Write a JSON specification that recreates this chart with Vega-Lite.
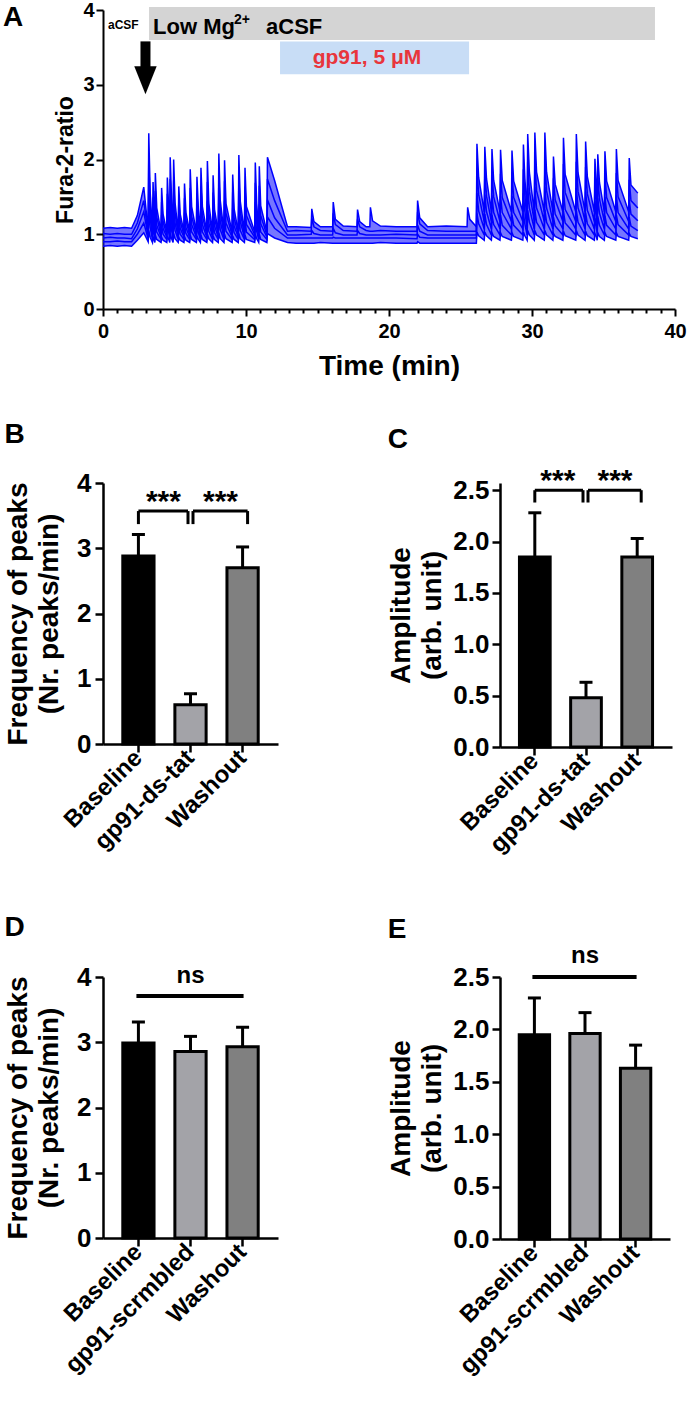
{
  "$schema": "https://vega.github.io/schema/vega-lite/v6.json",
  "background": "white",
  "padding": {"left": 2, "top": 0, "right": 5, "bottom": 5},
  "config": {
    "view": {"stroke": null},
    "font": "Liberation Sans",
    "axis": {"domainColor": "black", "tickColor": "black", "labelColor": "black", "titleColor": "black", "labelFont": "Liberation Sans", "titleFont": "Liberation Sans", "labelFontWeight": "bold", "titleFontWeight": "bold", "grid": false, "labelOverlap": false},
    "title": {"font": "Liberation Sans", "fontWeight": "bold", "color": "black"},
    "text": {"font": "Liberation Sans", "fontWeight": "bold", "color": "black"}
  },
  "datasets": {
    "traces": [
      {"t":0,"a":1.08,"b":1.01,"c":0.95,"d":0.9,"e":0.84},
      {"t":0.5,"a":1.09,"b":1.0,"c":0.96,"d":0.9,"e":0.85},
      {"t":1.0,"a":1.08,"b":1.01,"c":0.95,"d":0.91,"e":0.84},
      {"t":1.5,"a":1.09,"b":1.0,"c":0.95,"d":0.9,"e":0.85},
      {"t":2.0,"a":1.08,"b":1.0,"c":0.94,"d":0.9,"e":0.84},
      {"t":2.4,"a":1.25,"b":1.15,"c":1.07,"d":1.0,"e":0.92},
      {"t":2.85,"a":1.63,"b":1.45,"c":1.3,"d":1.15,"e":1.02},
      {"t":3.16,"a":1.05,"b":1.0,"c":0.97,"d":0.94,"e":0.9},
      {"t":3.2,"a":2.35,"b":1.98,"c":1.62,"d":1.33,"e":1.05},
      {"t":3.3,"a":1.56,"b":1.39,"c":1.22,"d":1.09,"e":0.96},
      {"t":3.46,"a":1.03,"b":0.99,"c":0.96,"d":0.93,"e":0.89},
      {"t":3.5,"a":1.7,"b":1.49,"c":1.3,"d":1.13,"e":0.97},
      {"t":3.58,"a":1.3,"b":1.19,"c":1.09,"d":1.01,"e":0.92},
      {"t":3.63,"a":1.03,"b":0.99,"c":0.96,"d":0.93,"e":0.89},
      {"t":3.66,"a":1.82,"b":1.58,"c":1.36,"d":1.17,"e":0.99},
      {"t":3.76,"a":1.35,"b":1.23,"c":1.12,"d":1.03,"e":0.93},
      {"t":4.06,"a":1.03,"b":0.99,"c":0.96,"d":0.93,"e":0.89},
      {"t":4.1,"a":1.62,"b":1.43,"c":1.26,"d":1.11,"e":0.96},
      {"t":4.2,"a":1.27,"b":1.17,"c":1.08,"d":1.0,"e":0.92},
      {"t":4.46,"a":1.03,"b":0.99,"c":0.96,"d":0.93,"e":0.89},
      {"t":4.5,"a":1.76,"b":1.54,"c":1.33,"d":1.15,"e":0.98},
      {"t":4.6,"a":1.32,"b":1.21,"c":1.11,"d":1.02,"e":0.93},
      {"t":4.67,"a":1.03,"b":0.99,"c":0.96,"d":0.93,"e":0.89},
      {"t":4.7,"a":2.03,"b":1.74,"c":1.46,"d":1.23,"e":1.01},
      {"t":4.8,"a":1.43,"b":1.29,"c":1.16,"d":1.05,"e":0.94},
      {"t":4.9,"a":1.03,"b":0.99,"c":0.96,"d":0.93,"e":0.89},
      {"t":4.94,"a":2.0,"b":1.72,"c":1.45,"d":1.22,"e":1.01},
      {"t":5.04,"a":1.42,"b":1.28,"c":1.15,"d":1.05,"e":0.94},
      {"t":5.26,"a":1.03,"b":0.99,"c":0.96,"d":0.93,"e":0.89},
      {"t":5.3,"a":1.64,"b":1.45,"c":1.27,"d":1.11,"e":0.96},
      {"t":5.4,"a":1.27,"b":1.17,"c":1.08,"d":1.0,"e":0.92},
      {"t":5.66,"a":1.03,"b":0.99,"c":0.96,"d":0.93,"e":0.89},
      {"t":5.7,"a":1.68,"b":1.48,"c":1.29,"d":1.13,"e":0.97},
      {"t":5.8,"a":1.29,"b":1.19,"c":1.09,"d":1.01,"e":0.92},
      {"t":6.06,"a":1.03,"b":0.99,"c":0.96,"d":0.93,"e":0.89},
      {"t":6.1,"a":1.87,"b":1.62,"c":1.38,"d":1.18,"e":0.99},
      {"t":6.2,"a":1.37,"b":1.24,"c":1.13,"d":1.03,"e":0.93},
      {"t":6.53,"a":1.03,"b":0.99,"c":0.96,"d":0.93,"e":0.89},
      {"t":6.57,"a":1.77,"b":1.55,"c":1.33,"d":1.15,"e":0.98},
      {"t":6.67,"a":1.33,"b":1.21,"c":1.11,"d":1.02,"e":0.93},
      {"t":6.81,"a":1.03,"b":0.99,"c":0.96,"d":0.93,"e":0.89},
      {"t":6.85,"a":1.89,"b":1.64,"c":1.39,"d":1.19,"e":0.99},
      {"t":6.95,"a":1.37,"b":1.25,"c":1.13,"d":1.03,"e":0.93},
      {"t":7.26,"a":1.03,"b":0.99,"c":0.96,"d":0.93,"e":0.89},
      {"t":7.3,"a":1.98,"b":1.7,"c":1.44,"d":1.22,"e":1.0},
      {"t":7.4,"a":1.41,"b":1.28,"c":1.15,"d":1.04,"e":0.94},
      {"t":7.66,"a":1.03,"b":0.99,"c":0.96,"d":0.93,"e":0.89},
      {"t":7.7,"a":1.79,"b":1.56,"c":1.34,"d":1.16,"e":0.98},
      {"t":7.8,"a":1.33,"b":1.22,"c":1.11,"d":1.02,"e":0.93},
      {"t":8.06,"a":1.03,"b":0.99,"c":0.96,"d":0.93,"e":0.89},
      {"t":8.1,"a":2.08,"b":1.78,"c":1.49,"d":1.25,"e":1.02},
      {"t":8.2,"a":1.45,"b":1.31,"c":1.17,"d":1.06,"e":0.94},
      {"t":8.46,"a":1.03,"b":0.99,"c":0.96,"d":0.93,"e":0.89},
      {"t":8.5,"a":1.99,"b":1.71,"c":1.44,"d":1.22,"e":1.0},
      {"t":8.6,"a":1.41,"b":1.28,"c":1.15,"d":1.04,"e":0.94},
      {"t":9.03,"a":1.03,"b":0.99,"c":0.96,"d":0.93,"e":0.89},
      {"t":9.07,"a":1.8,"b":1.57,"c":1.35,"d":1.16,"e":0.98},
      {"t":9.17,"a":1.34,"b":1.22,"c":1.11,"d":1.02,"e":0.93},
      {"t":9.46,"a":1.03,"b":0.99,"c":0.96,"d":0.93,"e":0.89},
      {"t":9.5,"a":2.06,"b":1.76,"c":1.48,"d":1.24,"e":1.01},
      {"t":9.6,"a":1.44,"b":1.3,"c":1.17,"d":1.05,"e":0.94},
      {"t":9.89,"a":1.03,"b":0.99,"c":0.96,"d":0.93,"e":0.89},
      {"t":9.93,"a":1.89,"b":1.64,"c":1.39,"d":1.19,"e":0.99},
      {"t":10.03,"a":1.37,"b":1.25,"c":1.13,"d":1.03,"e":0.93},
      {"t":10.61,"a":1.03,"b":0.99,"c":0.96,"d":0.93,"e":0.89},
      {"t":10.65,"a":1.96,"b":1.69,"c":1.43,"d":1.21,"e":1.0},
      {"t":10.75,"a":1.4,"b":1.27,"c":1.15,"d":1.04,"e":0.94},
      {"t":10.89,"a":1.03,"b":0.99,"c":0.96,"d":0.93,"e":0.89},
      {"t":10.93,"a":1.91,"b":1.65,"c":1.4,"d":1.19,"e":1.0},
      {"t":11.03,"a":1.38,"b":1.25,"c":1.14,"d":1.03,"e":0.93},
      {"t":11.46,"a":1.03,"b":0.99,"c":0.96,"d":0.93,"e":0.89},
      {"t":11.5,"a":2.03,"b":1.74,"c":1.46,"d":1.23,"e":1.01},
      {"t":12.0,"a":1.72,"b":1.45,"c":1.22,"d":1.08,"e":0.95},
      {"t":12.9,"a":1.1,"b":1.04,"c":0.99,"d":0.95,"e":0.89},
      {"t":13.5,"a":1.1,"b":1.05,"c":0.99,"d":0.95,"e":0.88},
      {"t":14.56,"a":1.09,"b":1.04,"c":1.0,"d":0.95,"e":0.88},
      {"t":14.6,"a":1.34,"b":1.22,"c":1.05,"d":0.95,"e":0.88},
      {"t":14.75,"a":1.17,"b":1.1,"c":1.01,"d":0.95,"e":0.88},
      {"t":15.2,"a":1.1,"b":1.05,"c":0.99,"d":0.95,"e":0.89},
      {"t":16.06,"a":1.1,"b":1.04,"c":0.99,"d":0.95,"e":0.88},
      {"t":16.1,"a":1.43,"b":1.28,"c":1.08,"d":0.96,"e":0.88},
      {"t":16.25,"a":1.2,"b":1.13,"c":1.02,"d":0.95,"e":0.88},
      {"t":16.8,"a":1.11,"b":1.05,"c":0.99,"d":0.95,"e":0.88},
      {"t":17.76,"a":1.1,"b":1.04,"c":0.99,"d":0.95,"e":0.88},
      {"t":17.8,"a":1.33,"b":1.2,"c":1.05,"d":0.95,"e":0.88},
      {"t":17.95,"a":1.17,"b":1.1,"c":1.01,"d":0.95,"e":0.88},
      {"t":18.4,"a":1.1,"b":1.05,"c":0.99,"d":0.95,"e":0.88},
      {"t":18.66,"a":1.1,"b":1.04,"c":0.99,"d":0.95,"e":0.88},
      {"t":18.7,"a":1.36,"b":1.04,"c":0.99,"d":0.95,"e":0.88},
      {"t":18.85,"a":1.18,"b":1.04,"c":0.99,"d":0.95,"e":0.88},
      {"t":19.4,"a":1.11,"b":1.05,"c":0.99,"d":0.95,"e":0.89},
      {"t":20.5,"a":1.1,"b":1.04,"c":1.0,"d":0.95,"e":0.88},
      {"t":21.96,"a":1.1,"b":1.04,"c":0.99,"d":0.94,"e":0.88},
      {"t":22.0,"a":1.45,"b":1.3,"c":1.12,"d":1.0,"e":0.9},
      {"t":22.15,"a":1.22,"b":1.14,"c":1.04,"d":0.96,"e":0.88},
      {"t":22.7,"a":1.1,"b":1.05,"c":0.99,"d":0.95,"e":0.88},
      {"t":24.0,"a":1.11,"b":1.04,"c":0.99,"d":0.95,"e":0.88},
      {"t":25.46,"a":1.1,"b":1.04,"c":0.99,"d":0.95,"e":0.88},
      {"t":25.5,"a":1.36,"b":1.04,"c":0.99,"d":0.95,"e":0.88},
      {"t":25.65,"a":1.2,"b":1.04,"c":0.99,"d":0.95,"e":0.88},
      {"t":26.11,"a":1.1,"b":1.04,"c":0.99,"d":0.95,"e":0.88},
      {"t":26.15,"a":2.21,"b":1.88,"c":1.55,"d":1.28,"e":1.03},
      {"t":26.27,"a":1.76,"b":1.53,"c":1.31,"d":1.14,"e":0.98},
      {"t":26.66,"a":1.3,"b":1.17,"c":1.07,"d":0.99,"e":0.92},
      {"t":26.7,"a":2.17,"b":1.85,"c":1.53,"d":1.27,"e":1.03},
      {"t":26.82,"a":1.74,"b":1.51,"c":1.3,"d":1.13,"e":0.98},
      {"t":27.16,"a":1.3,"b":1.17,"c":1.07,"d":0.99,"e":0.92},
      {"t":27.2,"a":2.14,"b":1.82,"c":1.52,"d":1.26,"e":1.02},
      {"t":27.32,"a":1.72,"b":1.5,"c":1.29,"d":1.13,"e":0.97},
      {"t":27.76,"a":1.3,"b":1.17,"c":1.07,"d":0.99,"e":0.92},
      {"t":27.8,"a":2.13,"b":1.81,"c":1.51,"d":1.26,"e":1.02},
      {"t":27.92,"a":1.72,"b":1.49,"c":1.29,"d":1.12,"e":0.97},
      {"t":28.56,"a":1.3,"b":1.17,"c":1.07,"d":0.99,"e":0.92},
      {"t":28.6,"a":2.12,"b":1.81,"c":1.51,"d":1.26,"e":1.02},
      {"t":28.72,"a":1.71,"b":1.49,"c":1.29,"d":1.12,"e":0.97},
      {"t":29.36,"a":1.3,"b":1.17,"c":1.07,"d":0.99,"e":0.92},
      {"t":29.4,"a":2.2,"b":1.87,"c":1.55,"d":1.28,"e":1.03},
      {"t":29.5,"a":1.75,"b":1.52,"c":1.31,"d":1.14,"e":0.98},
      {"t":29.66,"a":1.3,"b":1.17,"c":1.07,"d":0.99,"e":0.92},
      {"t":29.7,"a":2.34,"b":1.97,"c":1.62,"d":1.32,"e":1.05},
      {"t":29.82,"a":1.82,"b":1.57,"c":1.35,"d":1.16,"e":0.99},
      {"t":30.16,"a":1.3,"b":1.17,"c":1.07,"d":0.99,"e":0.92},
      {"t":30.2,"a":2.36,"b":1.99,"c":1.63,"d":1.33,"e":1.05},
      {"t":30.32,"a":1.83,"b":1.58,"c":1.35,"d":1.16,"e":0.99},
      {"t":30.86,"a":1.3,"b":1.17,"c":1.07,"d":0.99,"e":0.92},
      {"t":30.9,"a":2.36,"b":1.99,"c":1.63,"d":1.33,"e":1.05},
      {"t":31.02,"a":1.83,"b":1.58,"c":1.35,"d":1.16,"e":0.99},
      {"t":31.46,"a":1.3,"b":1.17,"c":1.07,"d":0.99,"e":0.92},
      {"t":31.5,"a":2.04,"b":1.75,"c":1.47,"d":1.23,"e":1.01},
      {"t":31.62,"a":1.67,"b":1.46,"c":1.27,"d":1.11,"e":0.97},
      {"t":32.16,"a":1.3,"b":1.17,"c":1.07,"d":0.99,"e":0.92},
      {"t":32.2,"a":2.29,"b":1.94,"c":1.59,"d":1.31,"e":1.04},
      {"t":32.32,"a":1.8,"b":1.56,"c":1.33,"d":1.15,"e":0.98},
      {"t":33.06,"a":1.3,"b":1.17,"c":1.07,"d":0.99,"e":0.92},
      {"t":33.1,"a":2.34,"b":1.97,"c":1.62,"d":1.32,"e":1.05},
      {"t":33.22,"a":1.82,"b":1.57,"c":1.35,"d":1.16,"e":0.99},
      {"t":33.71,"a":1.3,"b":1.17,"c":1.07,"d":0.99,"e":0.92},
      {"t":33.75,"a":2.24,"b":1.9,"c":1.57,"d":1.29,"e":1.04},
      {"t":33.87,"a":1.77,"b":1.54,"c":1.32,"d":1.14,"e":0.98},
      {"t":34.36,"a":1.3,"b":1.17,"c":1.07,"d":0.99,"e":0.92},
      {"t":34.4,"a":2.01,"b":1.73,"c":1.45,"d":1.22,"e":1.01},
      {"t":34.5,"a":1.66,"b":1.45,"c":1.26,"d":1.11,"e":0.97},
      {"t":34.56,"a":1.3,"b":1.17,"c":1.07,"d":0.99,"e":0.92},
      {"t":34.6,"a":2.07,"b":1.77,"c":1.48,"d":1.24,"e":1.02},
      {"t":34.72,"a":1.69,"b":1.47,"c":1.28,"d":1.12,"e":0.97},
      {"t":35.06,"a":1.3,"b":1.17,"c":1.07,"d":0.99,"e":0.92},
      {"t":35.1,"a":2.11,"b":1.8,"c":1.5,"d":1.25,"e":1.02},
      {"t":35.22,"a":1.71,"b":1.49,"c":1.29,"d":1.12,"e":0.97},
      {"t":35.86,"a":1.3,"b":1.17,"c":1.07,"d":0.99,"e":0.92},
      {"t":35.9,"a":2.14,"b":1.82,"c":1.52,"d":1.26,"e":1.02},
      {"t":36.02,"a":1.72,"b":1.5,"c":1.29,"d":1.13,"e":0.97},
      {"t":36.76,"a":1.3,"b":1.17,"c":1.07,"d":0.99,"e":0.92},
      {"t":36.8,"a":2.02,"b":1.73,"c":1.46,"d":1.23,"e":1.01},
      {"t":36.92,"a":1.66,"b":1.45,"c":1.27,"d":1.11,"e":0.97},
      {"t":37.4,"a":1.55,"b":1.35,"c":1.18,"d":1.05,"e":0.94}
    ]
  },
  "spacing": 41,
  "vconcat": [
    {
      "width": 572,
      "height": 299,
      "resolve": {"axis": {"x": "independent"}},
      "layer": [
        {
          "layer": [
            {
              "data": {"values": [{"x1": 3.22, "x2": 38.6, "y1": 3.6, "y2": 4.04}]},
              "mark": {"type": "rect", "color": "#d4d4d4"},
              "encoding": {
                "x": {"field": "x1", "type": "quantitative", "scale": {"domain": [0, 40], "nice": false},
                  "axis": {"title": "Time (min)", "orient": "bottom", "values": [0, 10, 20, 30, 40], "format": "d",
                    "tickSize": 7, "tickWidth": 2, "domainWidth": 2, "labelFontSize": 20, "labelPadding": 5, "labelFlush": false, "labelOverlap": false,
                    "titleFontSize": 28, "titlePadding": 11}},
                "x2": {"field": "x2"},
                "y": {"field": "y1", "type": "quantitative", "scale": {"domain": [0, 4], "nice": false},
                  "axis": {"title": "Fura-2-ratio", "values": [0,1,2,3,4], "format": "d", "tickSize": 7, "tickWidth": 2, "domainWidth": 2, "labelFontSize": 20, "labelPadding": 2, "labelOverlap": false, "titleFontSize": 23, "titlePadding": 5}},
                "y2": {"field": "y2"}
              }
            },
            {
              "data": {"values": [{"x1": 12.38, "x2": 25.6, "y1": 3.14, "y2": 3.58}]},
              "mark": {"type": "rect", "color": "#c8ddf6"},
              "encoding": {
                "x": {"field": "x1", "type": "quantitative"},
                "x2": {"field": "x2"},
                "y": {"field": "y1", "type": "quantitative"},
                "y2": {"field": "y2"}
              }
            },
            {
              "data": {"name": "traces"},
              "mark": {"type": "area", "color": "#1a1aff", "opacity": 0.6},
              "encoding": {
                "x": {"field": "t", "type": "quantitative"},
                "y": {"field": "e", "type": "quantitative"},
                "y2": {"field": "a"}
              }
            },
            {
              "data": {"name": "traces"},
              "transform": [{"fold": ["a", "b", "c", "d", "e"], "as": ["cell", "v"]}],
              "mark": {"type": "line", "color": "#0000ff", "strokeWidth": 1.5},
              "encoding": {
                "x": {"field": "t", "type": "quantitative"},
                "y": {"field": "v", "type": "quantitative"},
                "detail": {"field": "cell", "type": "nominal"}
              }
            },
            {
              "data": {"values": [{"t": 2.97, "y1": 3.58, "y2": 3.18}]},
              "mark": {"type": "rule", "strokeWidth": 10, "color": "black", "strokeCap": "butt"},
              "encoding": {
                "x": {"field": "t", "type": "quantitative"},
                "y": {"field": "y1", "type": "quantitative"},
                "y2": {"field": "y2"}
              }
            },
            {
              "data": {"values": [{"t": 2.97, "v": 3.06}]},
              "mark": {"type": "point", "shape": "M-0.8,-1L0.8,-1L0,1Z", "size": 784, "filled": true, "color": "black", "opacity": 1},
              "encoding": {
                "x": {"field": "t", "type": "quantitative"},
                "y": {"field": "v", "type": "quantitative"}
              }
            },
            {
              "data": {"values": [{"t": -7.0, "v": 3.79, "s": "A"}]},
              "mark": {"type": "text", "fontSize": 28, "align": "left", "baseline": "alphabetic"},
              "encoding": {"x": {"field": "t", "type": "quantitative"}, "y": {"field": "v", "type": "quantitative"}, "text": {"field": "s"}}
            },
            {
              "data": {"values": [{"t": 0.35, "v": 3.74, "s": "aCSF"}]},
              "mark": {"type": "text", "fontSize": 12, "align": "left", "baseline": "alphabetic"},
              "encoding": {"x": {"field": "t", "type": "quantitative"}, "y": {"field": "v", "type": "quantitative"}, "text": {"field": "s"}}
            },
            {
              "data": {"values": [{"t": 3.5, "v": 3.68, "s": "Low Mg"}, {"t": 11.4, "v": 3.68, "s": "aCSF"}]},
              "mark": {"type": "text", "fontSize": 22, "align": "left", "baseline": "alphabetic"},
              "encoding": {"x": {"field": "t", "type": "quantitative"}, "y": {"field": "v", "type": "quantitative"}, "text": {"field": "s"}}
            },
            {
              "data": {"values": [{"t": 9.16, "v": 3.81, "s": "2+"}]},
              "mark": {"type": "text", "fontSize": 14, "align": "left", "baseline": "alphabetic"},
              "encoding": {"x": {"field": "t", "type": "quantitative"}, "y": {"field": "v", "type": "quantitative"}, "text": {"field": "s"}}
            },
            {
              "data": {"values": [{"t": 18.46, "v": 3.28, "s": "gp91, 5 μM"}]},
              "mark": {"type": "text", "fontSize": 21, "align": "center", "baseline": "alphabetic", "color": "#e8353c"},
              "encoding": {"x": {"field": "t", "type": "quantitative"}, "y": {"field": "v", "type": "quantitative"}, "text": {"field": "s"}}
            }
          ]
        },
        {
          "data": {"values": [{"t": 0, "v": 0}]},
          "mark": {"type": "point", "opacity": 0},
          "encoding": {
            "x": {"field": "t", "type": "quantitative",
              "axis": {"orient": "bottom", "title": null, "labels": false, "domain": false, "tickSize": 4, "tickWidth": 2,
                "values": [1,2,3,4,5,6,7,8,9,11,12,13,14,15,16,17,18,19,21,22,23,24,25,26,27,28,29,31,32,33,34,35,36,37,38,39]}},
            "y": {"field": "v", "type": "quantitative"}
          }
        }
      ]
    },
    {
      "columns": 2,
      "spacing": {"row": 56, "column": 109},
      "resolve": {"scale": {"color": "independent", "x": "independent", "y": "independent"}},
      "concat": [
        {
          "width": 175,
          "height": 261,
          "title": {"text": "B", "anchor": "start", "frame": "bounds", "fontSize": 28, "offset": 21},
          "layer": [
            {
              "data": {"values": [{"g": "Baseline", "m": 2.88, "u": 3.21}, {"g": "gp91-ds-tat", "m": 0.6, "u": 0.77}, {"g": "Washout", "m": 2.7, "u": 3.02}]},
              "layer": [
                {
                  "mark": {"type": "bar", "stroke": "black", "strokeWidth": 3},
                  "encoding": {
                    "x": {"field": "g", "type": "nominal", "scale": {"domain": ["Baseline", "gp91-ds-tat", "Washout"], "paddingInner": 0.4, "paddingOuter": 0.38},
                      "axis": {"title": null, "labelAngle": -45, "labelAlign": "right", "labelBaseline": "middle", "labelFontSize": 24, "labelPadding": 2, "tickSize": 8, "tickWidth": 2.5, "domainWidth": 2.5}},
                    "y": {"field": "m", "type": "quantitative", "scale": {"domain": [0, 4], "nice": false},
                      "axis": {"title": ["Frequency of peaks", "(Nr. peaks/min)"], "values": [0, 1, 2, 3, 4], "format": "d", "labelFontSize": 26, "labelPadding": 4, "tickSize": 8, "tickWidth": 2.5, "domainWidth": 2.5, "titleFontSize": 28, "titlePadding": 13, "titleLineHeight": 31}},
                    "color": {"field": "g", "type": "nominal", "scale": {"domain": ["Baseline", "gp91-ds-tat", "Washout"], "range": ["#000000", "#a3a3a8", "#808080"]}, "legend": null}
                  }
                },
                {
                  "mark": {"type": "rule", "strokeWidth": 3, "color": "black"},
                  "encoding": {"x": {"field": "g", "type": "nominal"}, "y": {"field": "m", "type": "quantitative"}, "y2": {"field": "u"}}
                },
                {
                  "mark": {"type": "tick", "thickness": 3, "size": 13, "color": "black", "opacity": 1},
                  "encoding": {"x": {"field": "g", "type": "nominal"}, "y": {"field": "u", "type": "quantitative"}}
                }
              ]
            },
            {
              "data": {"values": [{"g": "Baseline", "g2": "gp91-ds-tat", "y": 3.57}]},
              "mark": {"type": "rule", "strokeWidth": 3, "color": "black", "x2Offset": -2.5},
              "encoding": {"x": {"field": "g", "type": "nominal"}, "x2": {"field": "g2"}, "y": {"field": "y", "type": "quantitative"}}
            },
            {
              "data": {"values": [{"g": "gp91-ds-tat", "g2": "Washout", "y": 3.57}]},
              "mark": {"type": "rule", "strokeWidth": 3, "color": "black", "xOffset": 2.5, "x2Offset": 5},
              "encoding": {"x": {"field": "g", "type": "nominal"}, "x2": {"field": "g2"}, "y": {"field": "y", "type": "quantitative"}}
            },
            {
              "data": {"values": [{"g": "Baseline", "y": 3.57, "lo": 3.37}]},
              "mark": {"type": "rule", "strokeWidth": 3, "color": "black"},
              "encoding": {"x": {"field": "g", "type": "nominal"}, "y": {"field": "lo", "type": "quantitative"}, "y2": {"field": "y"}}
            },
            {
              "data": {"values": [{"g": "gp91-ds-tat", "y": 3.57, "lo": 3.37}]},
              "mark": {"type": "rule", "strokeWidth": 3, "color": "black", "xOffset": -2.5},
              "encoding": {"x": {"field": "g", "type": "nominal"}, "y": {"field": "lo", "type": "quantitative"}, "y2": {"field": "y"}}
            },
            {
              "data": {"values": [{"g": "gp91-ds-tat", "y": 3.57, "lo": 3.37}]},
              "mark": {"type": "rule", "strokeWidth": 3, "color": "black", "xOffset": 2.5},
              "encoding": {"x": {"field": "g", "type": "nominal"}, "y": {"field": "lo", "type": "quantitative"}, "y2": {"field": "y"}}
            },
            {
              "data": {"values": [{"g": "Washout", "y": 3.57, "lo": 3.37}]},
              "mark": {"type": "rule", "strokeWidth": 3, "color": "black", "xOffset": 5},
              "encoding": {"x": {"field": "g", "type": "nominal"}, "y": {"field": "lo", "type": "quantitative"}, "y2": {"field": "y"}}
            },
            {
              "data": {"values": [{"g": "Baseline", "y": 3.57, "s": "***"}]},
              "mark": {"type": "text", "fontSize": 30, "baseline": "alphabetic", "align": "center", "xOffset": 25},
              "encoding": {"x": {"field": "g", "type": "nominal"}, "y": {"field": "y", "type": "quantitative"}, "text": {"field": "s"}}
            },
            {
              "data": {"values": [{"g": "gp91-ds-tat", "y": 3.57, "s": "***"}]},
              "mark": {"type": "text", "fontSize": 30, "baseline": "alphabetic", "align": "center", "xOffset": 30},
              "encoding": {"x": {"field": "g", "type": "nominal"}, "y": {"field": "y", "type": "quantitative"}, "text": {"field": "s"}}
            }
          ]
        },
        {
          "width": 172,
          "height": 264,
          "title": {"text": "C", "anchor": "start", "frame": "bounds", "fontSize": 28, "offset": 12},
          "layer": [
            {
              "data": {"values": [{"g": "Baseline", "m": 1.85, "u": 2.28}, {"g": "gp91-ds-tat", "m": 0.48, "u": 0.63}, {"g": "Washout", "m": 1.85, "u": 2.03}]},
              "layer": [
                {
                  "mark": {"type": "bar", "stroke": "black", "strokeWidth": 3},
                  "encoding": {
                    "x": {"field": "g", "type": "nominal", "scale": {"domain": ["Baseline", "gp91-ds-tat", "Washout"], "paddingInner": 0.4, "paddingOuter": 0.38},
                      "axis": {"title": null, "labelAngle": -45, "labelAlign": "right", "labelBaseline": "middle", "labelFontSize": 24, "labelPadding": 2, "tickSize": 8, "tickWidth": 2.5, "domainWidth": 2.5}},
                    "y": {"field": "m", "type": "quantitative", "scale": {"domain": [0, 2.57], "nice": false},
                      "axis": {"title": ["Amplitude", "(arb. unit)"], "values": [0, 0.5, 1, 1.5, 2, 2.5], "format": ".1f", "labelFontSize": 26, "labelPadding": 3, "tickSize": 8, "tickWidth": 2.5, "domainWidth": 2.5, "titleFontSize": 28, "titlePadding": 6, "titleLineHeight": 31}},
                    "color": {"field": "g", "type": "nominal", "scale": {"domain": ["Baseline", "gp91-ds-tat", "Washout"], "range": ["#000000", "#a3a3a8", "#808080"]}, "legend": null}
                  }
                },
                {
                  "mark": {"type": "rule", "strokeWidth": 3, "color": "black"},
                  "encoding": {"x": {"field": "g", "type": "nominal"}, "y": {"field": "m", "type": "quantitative"}, "y2": {"field": "u"}}
                },
                {
                  "mark": {"type": "tick", "thickness": 3, "size": 13, "color": "black", "opacity": 1},
                  "encoding": {"x": {"field": "g", "type": "nominal"}, "y": {"field": "u", "type": "quantitative"}}
                }
              ]
            },
            {
              "data": {"values": [{"g": "Baseline", "g2": "gp91-ds-tat", "y": 2.5}]},
              "mark": {"type": "rule", "strokeWidth": 3, "color": "black", "x2Offset": -3},
              "encoding": {"x": {"field": "g", "type": "nominal"}, "x2": {"field": "g2"}, "y": {"field": "y", "type": "quantitative"}}
            },
            {
              "data": {"values": [{"g": "gp91-ds-tat", "g2": "Washout", "y": 2.5}]},
              "mark": {"type": "rule", "strokeWidth": 3, "color": "black", "xOffset": 2, "x2Offset": 4},
              "encoding": {"x": {"field": "g", "type": "nominal"}, "x2": {"field": "g2"}, "y": {"field": "y", "type": "quantitative"}}
            },
            {
              "data": {"values": [{"g": "Baseline", "y": 2.5, "lo": 2.38}]},
              "mark": {"type": "rule", "strokeWidth": 3, "color": "black"},
              "encoding": {"x": {"field": "g", "type": "nominal"}, "y": {"field": "lo", "type": "quantitative"}, "y2": {"field": "y"}}
            },
            {
              "data": {"values": [{"g": "gp91-ds-tat", "y": 2.5, "lo": 2.38}]},
              "mark": {"type": "rule", "strokeWidth": 3, "color": "black", "xOffset": -3},
              "encoding": {"x": {"field": "g", "type": "nominal"}, "y": {"field": "lo", "type": "quantitative"}, "y2": {"field": "y"}}
            },
            {
              "data": {"values": [{"g": "gp91-ds-tat", "y": 2.5, "lo": 2.38}]},
              "mark": {"type": "rule", "strokeWidth": 3, "color": "black", "xOffset": 2},
              "encoding": {"x": {"field": "g", "type": "nominal"}, "y": {"field": "lo", "type": "quantitative"}, "y2": {"field": "y"}}
            },
            {
              "data": {"values": [{"g": "Washout", "y": 2.5, "lo": 2.38}]},
              "mark": {"type": "rule", "strokeWidth": 3, "color": "black", "xOffset": 4},
              "encoding": {"x": {"field": "g", "type": "nominal"}, "y": {"field": "lo", "type": "quantitative"}, "y2": {"field": "y"}}
            },
            {
              "data": {"values": [{"g": "Baseline", "y": 2.5, "s": "***"}]},
              "mark": {"type": "text", "fontSize": 30, "baseline": "alphabetic", "align": "center", "xOffset": 23},
              "encoding": {"x": {"field": "g", "type": "nominal"}, "y": {"field": "y", "type": "quantitative"}, "text": {"field": "s"}}
            },
            {
              "data": {"values": [{"g": "gp91-ds-tat", "y": 2.5, "s": "***"}]},
              "mark": {"type": "text", "fontSize": 30, "baseline": "alphabetic", "align": "center", "xOffset": 29},
              "encoding": {"x": {"field": "g", "type": "nominal"}, "y": {"field": "y", "type": "quantitative"}, "text": {"field": "s"}}
            }
          ]
        },
        {
          "width": 175,
          "height": 261,
          "title": {"text": "D", "anchor": "start", "frame": "bounds", "fontSize": 28, "offset": 22},
          "layer": [
            {
              "data": {"values": [{"g": "Baseline", "m": 2.99, "u": 3.31}, {"g": "gp91-scrmbled", "m": 2.86, "u": 3.09}, {"g": "Washout", "m": 2.93, "u": 3.23}]},
              "layer": [
                {
                  "mark": {"type": "bar", "stroke": "black", "strokeWidth": 3},
                  "encoding": {
                    "x": {"field": "g", "type": "nominal", "scale": {"domain": ["Baseline", "gp91-scrmbled", "Washout"], "paddingInner": 0.4, "paddingOuter": 0.38},
                      "axis": {"title": null, "labelAngle": -45, "labelAlign": "right", "labelBaseline": "middle", "labelFontSize": 24, "labelPadding": 2, "tickSize": 8, "tickWidth": 2.5, "domainWidth": 2.5}},
                    "y": {"field": "m", "type": "quantitative", "scale": {"domain": [0, 4], "nice": false},
                      "axis": {"title": ["Frequency of peaks", "(Nr. peaks/min)"], "values": [0, 1, 2, 3, 4], "format": "d", "labelFontSize": 26, "labelPadding": 4, "tickSize": 8, "tickWidth": 2.5, "domainWidth": 2.5, "titleFontSize": 28, "titlePadding": 13, "titleLineHeight": 31}},
                    "color": {"field": "g", "type": "nominal", "scale": {"domain": ["Baseline", "gp91-scrmbled", "Washout"], "range": ["#000000", "#a3a3a8", "#808080"]}, "legend": null}
                  }
                },
                {
                  "mark": {"type": "rule", "strokeWidth": 3, "color": "black"},
                  "encoding": {"x": {"field": "g", "type": "nominal"}, "y": {"field": "m", "type": "quantitative"}, "y2": {"field": "u"}}
                },
                {
                  "mark": {"type": "tick", "thickness": 3, "size": 13, "color": "black", "opacity": 1},
                  "encoding": {"x": {"field": "g", "type": "nominal"}, "y": {"field": "u", "type": "quantitative"}}
                }
              ]
            },
            {
              "data": {"values": [{"g": "Baseline", "g2": "Washout", "y": 3.71}]},
              "mark": {"type": "rule", "strokeWidth": 4, "color": "black", "xOffset": -2, "x2Offset": 1},
              "encoding": {"x": {"field": "g", "type": "nominal"}, "x2": {"field": "g2"}, "y": {"field": "y", "type": "quantitative"}}
            },
            {
              "data": {"values": [{"g": "gp91-scrmbled", "y": 3.91, "s": "ns"}]},
              "mark": {"type": "text", "fontSize": 24, "baseline": "alphabetic", "align": "center"},
              "encoding": {"x": {"field": "g", "type": "nominal"}, "y": {"field": "y", "type": "quantitative"}, "text": {"field": "s"}}
            }
          ]
        },
        {
          "width": 170,
          "height": 262,
          "title": {"text": "E", "anchor": "start", "frame": "bounds", "fontSize": 28, "offset": 0},
          "layer": [
            {
              "data": {"values": [{"g": "Baseline", "m": 1.95, "u": 2.3}, {"g": "gp91-scrmbled", "m": 1.96, "u": 2.16}, {"g": "Washout", "m": 1.63, "u": 1.85}]},
              "layer": [
                {
                  "mark": {"type": "bar", "stroke": "black", "strokeWidth": 3},
                  "encoding": {
                    "x": {"field": "g", "type": "nominal", "scale": {"domain": ["Baseline", "gp91-scrmbled", "Washout"], "paddingInner": 0.4, "paddingOuter": 0.38},
                      "axis": {"title": null, "labelAngle": -45, "labelAlign": "right", "labelBaseline": "middle", "labelFontSize": 24, "labelPadding": 2, "tickSize": 8, "tickWidth": 2.5, "domainWidth": 2.5}},
                    "y": {"field": "m", "type": "quantitative", "scale": {"domain": [0, 2.5], "nice": false},
                      "axis": {"title": ["Amplitude", "(arb. unit)"], "values": [0, 0.5, 1, 1.5, 2, 2.5], "format": ".1f", "labelFontSize": 26, "labelPadding": 3, "tickSize": 8, "tickWidth": 2.5, "domainWidth": 2.5, "titleFontSize": 28, "titlePadding": 6, "titleLineHeight": 31}},
                    "color": {"field": "g", "type": "nominal", "scale": {"domain": ["Baseline", "gp91-scrmbled", "Washout"], "range": ["#000000", "#a3a3a8", "#808080"]}, "legend": null}
                  }
                },
                {
                  "mark": {"type": "rule", "strokeWidth": 3, "color": "black"},
                  "encoding": {"x": {"field": "g", "type": "nominal"}, "y": {"field": "m", "type": "quantitative"}, "y2": {"field": "u"}}
                },
                {
                  "mark": {"type": "tick", "thickness": 3, "size": 13, "color": "black", "opacity": 1},
                  "encoding": {"x": {"field": "g", "type": "nominal"}, "y": {"field": "u", "type": "quantitative"}}
                }
              ]
            },
            {
              "data": {"values": [{"g": "Baseline", "g2": "Washout", "y": 2.5}]},
              "mark": {"type": "rule", "strokeWidth": 4, "color": "black", "xOffset": -2, "x2Offset": 1},
              "encoding": {"x": {"field": "g", "type": "nominal"}, "x2": {"field": "g2"}, "y": {"field": "y", "type": "quantitative"}}
            },
            {
              "data": {"values": [{"g": "gp91-scrmbled", "y": 2.63, "s": "ns"}]},
              "mark": {"type": "text", "fontSize": 24, "baseline": "alphabetic", "align": "center"},
              "encoding": {"x": {"field": "g", "type": "nominal"}, "y": {"field": "y", "type": "quantitative"}, "text": {"field": "s"}}
            }
          ]
        }
      ]
    }
  ]
}
